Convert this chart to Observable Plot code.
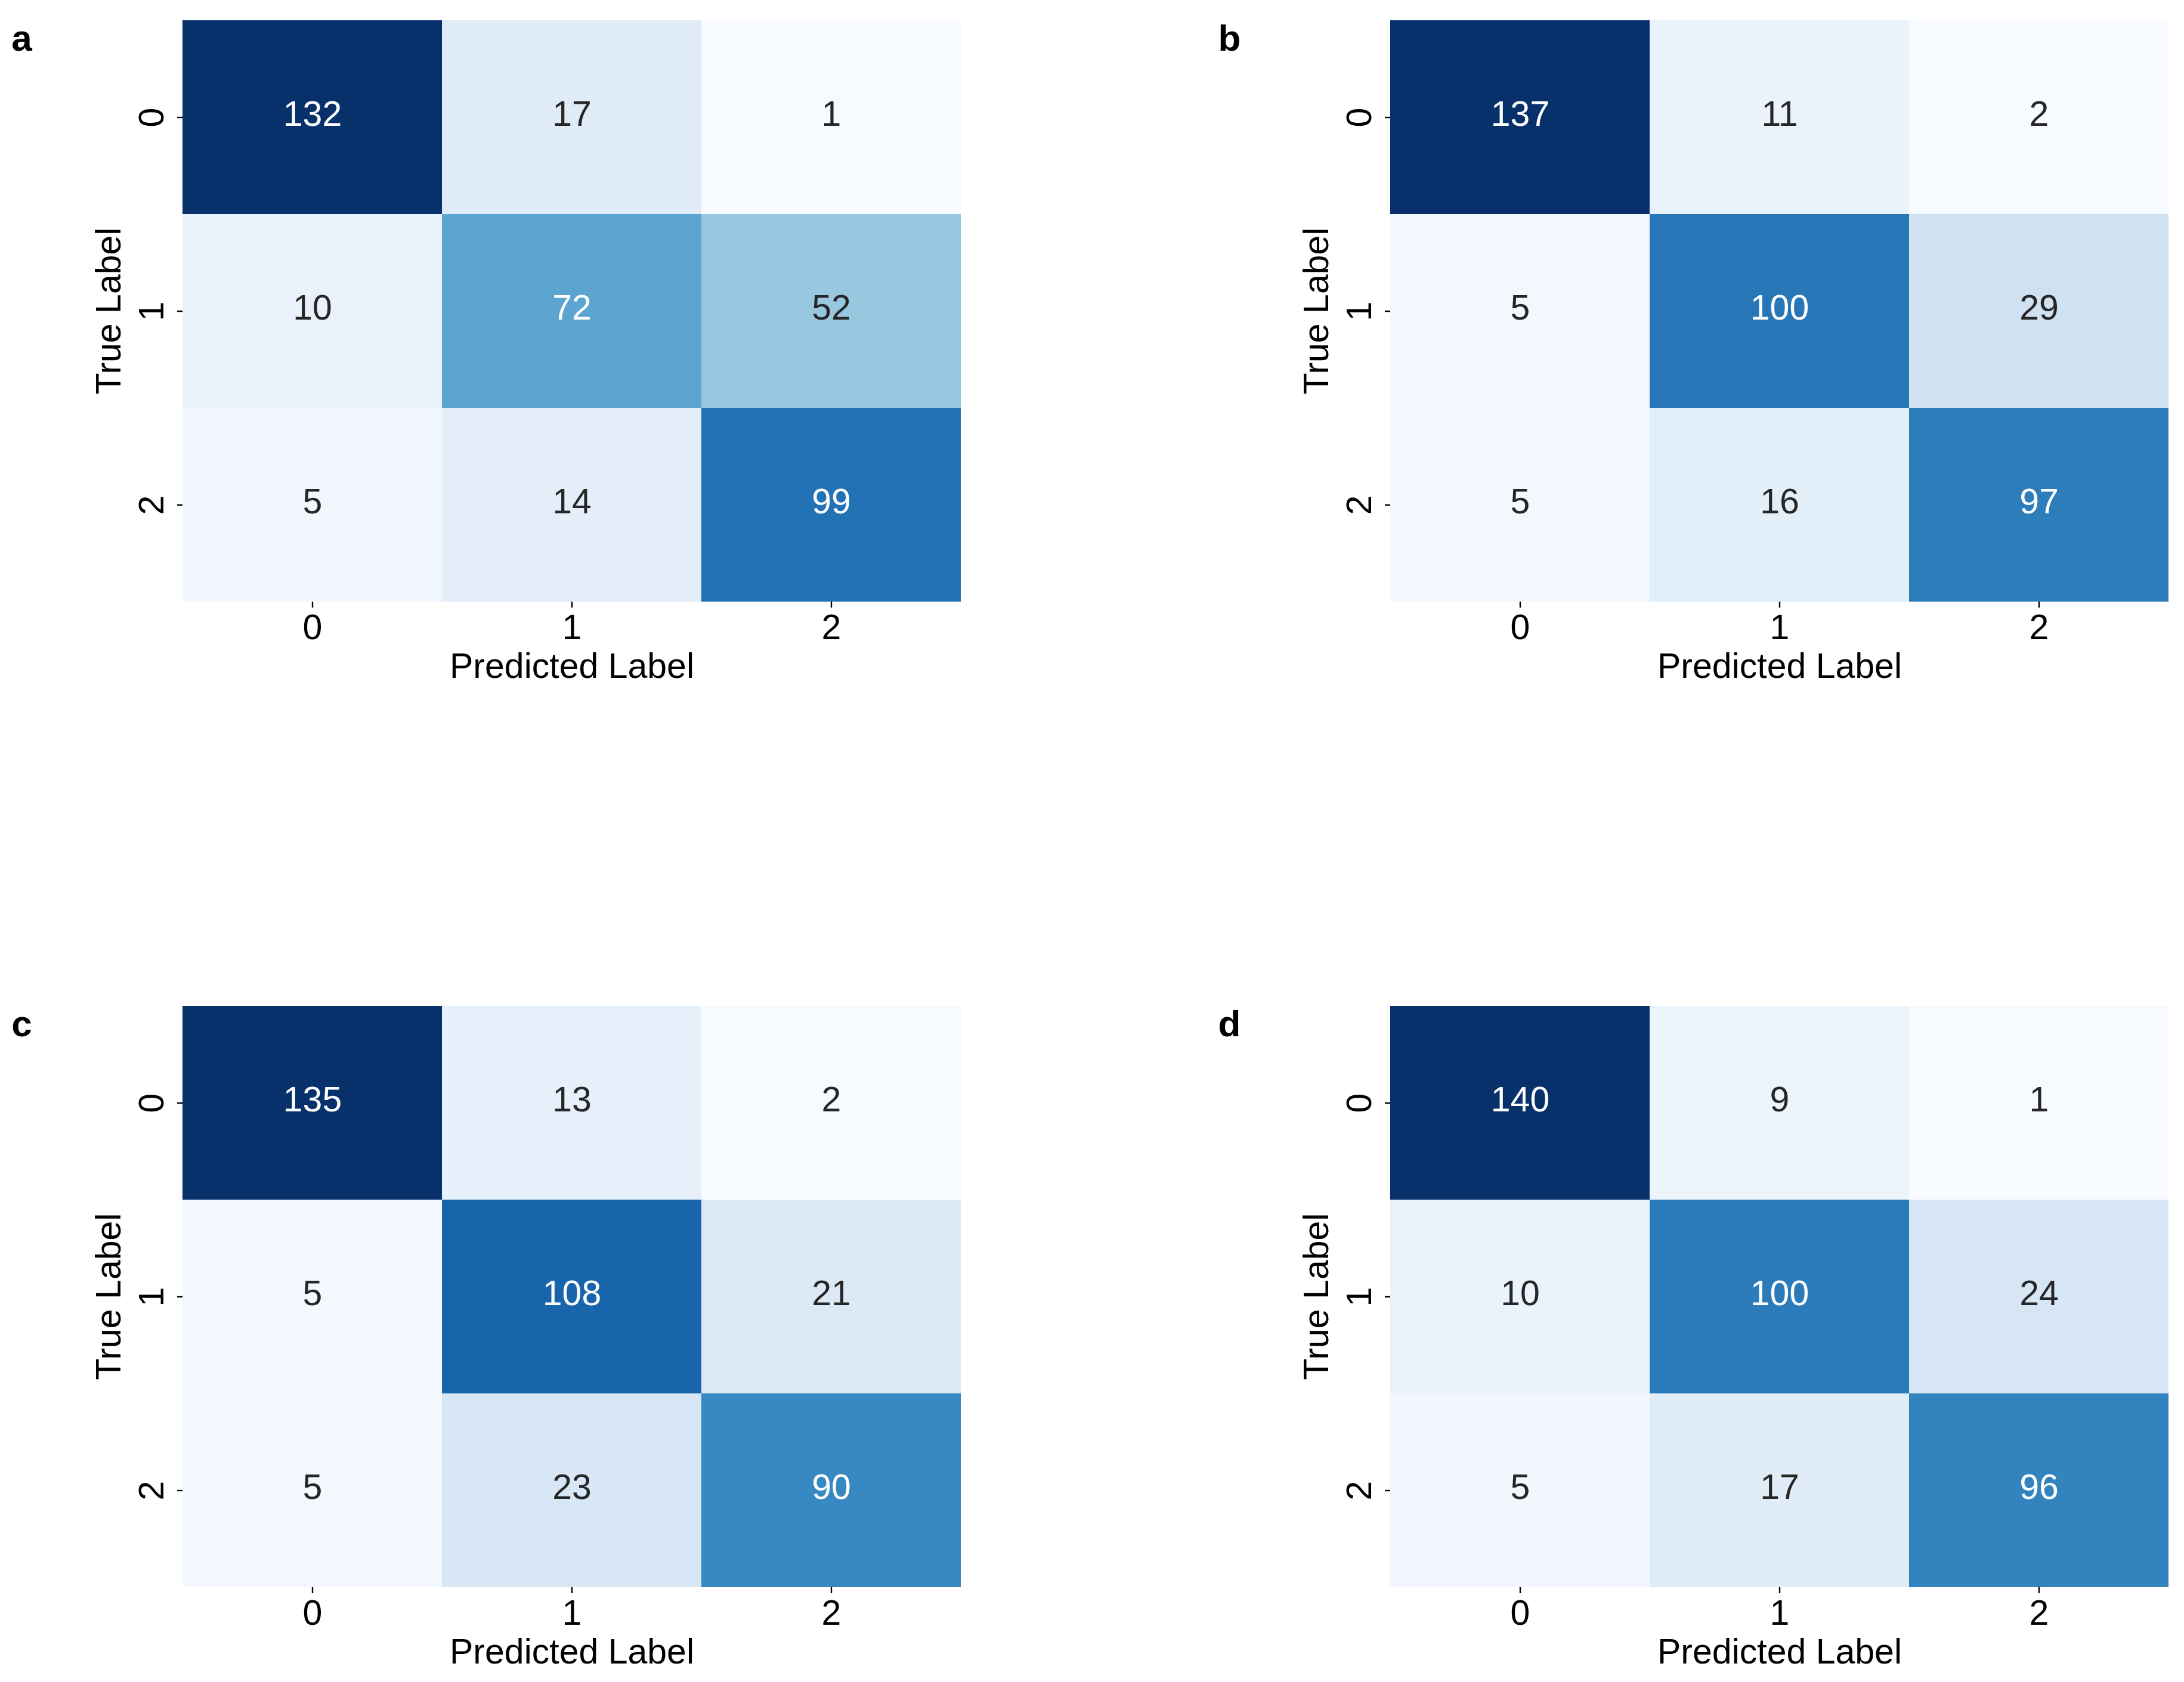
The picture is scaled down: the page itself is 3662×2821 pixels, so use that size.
<!DOCTYPE html>
<html>
<head>
<meta charset="utf-8">
<script src="https://cdn.jsdelivr.net/npm/d3@7"></script>
<script src="https://cdn.jsdelivr.net/npm/@observablehq/plot@0.6"></script>
<style>
  html, body { margin: 0; padding: 0; background: #ffffff; }
  #root { position: relative; width: 3662px; height: 2821px; background: #ffffff; overflow: hidden; }
  .panel { position: absolute; }
</style>
</head>
<body>
<div id="root"></div>
<script>
// ---- data ----
const panelLetters = ["a", "b", "c", "d"];
const classLabels = ["0", "1", "2"];
const xAxisTitle = "Predicted Label";
const yAxisTitle = "True Label";
const matrixA = [[132, 17, 1], [10, 72, 52], [5, 14, 99]];
const matrixB = [[137, 11, 2], [5, 100, 29], [5, 16, 97]];
const matrixC = [[135, 13, 2], [5, 108, 21], [5, 23, 90]];
const matrixD = [[140, 9, 1], [10, 100, 24], [5, 17, 96]];
const matrices = [matrixA, matrixB, matrixC, matrixD];

// matplotlib "Blues" colormap stops
const BLUES = ["#f7fbff", "#deebf7", "#c6dbef", "#9ecae1", "#6baed6", "#4292c6", "#2171b5", "#08519c", "#08306b"];

const FONT = "'Liberation Sans', Arial, Helvetica, sans-serif";
const FS = 59;

function relLum(c) {
  const col = d3.rgb(c);
  const ch = [col.r, col.g, col.b].map(v => {
    v = v / 255;
    return v <= 0.03928 ? v / 12.92 : Math.pow((v + 0.055) / 1.055, 2.4);
  });
  return 0.2126 * ch[0] + 0.7152 * ch[1] + 0.0722 * ch[2];
}

const positions = [
  {left: 0, top: 0},
  {left: 2025, top: 0},
  {left: 0, top: 1653},
  {left: 2025, top: 1653}
];

const root = document.getElementById("root");

matrices.forEach((m, k) => {
  const rows = [];
  m.forEach((row, i) => row.forEach((v, j) => rows.push({t: classLabels[i], p: classLabels[j], value: v})));
  const [lo, hi] = d3.extent(rows, d => d.value);
  const stops = d3.range(BLUES.length).map(i => lo + (hi - lo) * i / (BLUES.length - 1));
  const cscale = d3.scaleLinear().domain(stops).range(BLUES).interpolate(d3.interpolateRgb);
  const isDark = d => relLum(cscale(d.value)) <= 0.408;

  const chart = Plot.plot({
    width: 1637,
    height: 1168,
    marginLeft: 306,
    marginRight: 26,
    marginTop: 33,
    marginBottom: 159,
    style: {fontFamily: FONT, fontSize: FS + "px", color: "#000000", background: "#ffffff"},
    x: {domain: classLabels, padding: 0},
    y: {domain: classLabels, padding: 0},
    color: {type: "linear", domain: stops, range: BLUES, interpolate: "rgb"},
    marks: [
      Plot.cell(rows, {x: "p", y: "t", fill: "value", inset: 0, shapeRendering: "crispEdges"}),
      Plot.text(rows.filter(isDark), {x: "p", y: "t", dy: -5, text: d => String(d.value), fill: "#ffffff", fontSize: FS}),
      Plot.text(rows.filter(d => !isDark(d)), {x: "p", y: "t", dy: -5, text: d => String(d.value), fill: "#262626", fontSize: FS}),
      Plot.axisX({tickSize: 10, tickPadding: 11, strokeWidth: 2.4, label: null, fontSize: FS, fill: "#000000"}),
      Plot.axisY({tickSize: 9, tickPadding: 24, tickRotate: -90, strokeWidth: 2.4, label: null, fontSize: FS, fill: "#000000"}),
      Plot.text([xAxisTitle], {text: d => d, frameAnchor: "bottom", dy: 86, lineAnchor: "top", textAnchor: "middle", fontSize: FS, fill: "#000000"}),
      Plot.text([yAxisTitle], {text: d => d, frameAnchor: "left", dx: -123, rotate: -90, textAnchor: "middle", lineAnchor: "middle", fontSize: FS, fill: "#000000"}),
      Plot.text([panelLetters[k]], {text: d => d, frameAnchor: "top-left", dx: -270, dy: 32, textAnchor: "middle", lineAnchor: "middle", fontSize: 62, fontWeight: "bold", fill: "#000000"})
    ]
  });
  const div = document.createElement("div");
  div.className = "panel";
  div.style.left = positions[k].left + "px";
  div.style.top = positions[k].top + "px";
  div.appendChild(chart);
  root.appendChild(div);
});
</script>
</body>
</html>
